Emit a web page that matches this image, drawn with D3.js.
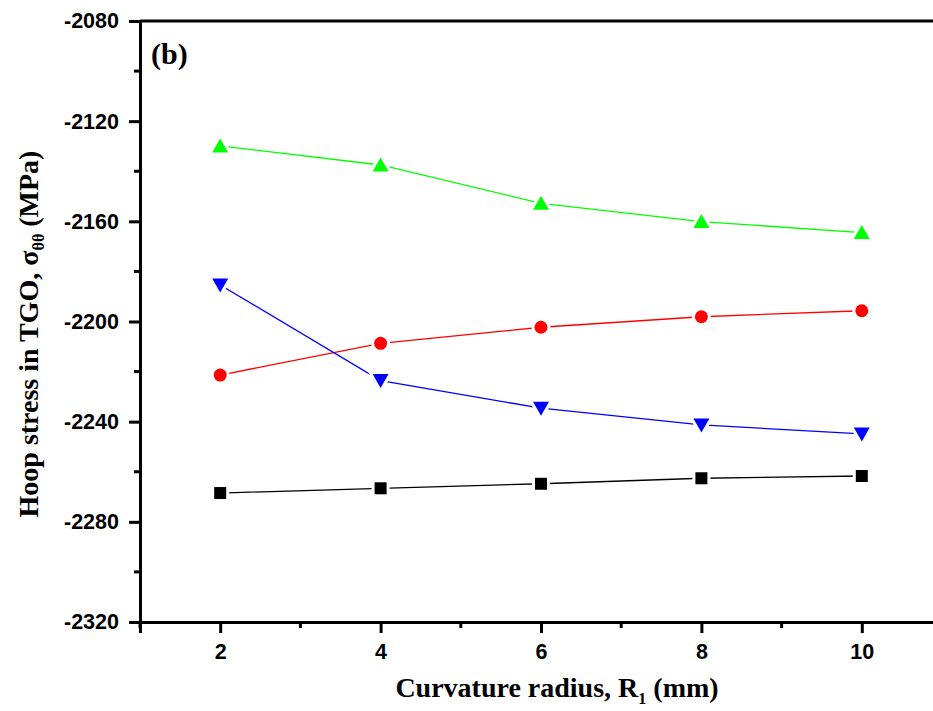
<!DOCTYPE html>
<head>
<script src="https://d3js.org/d3.v7.min.js"></script>
<style>
body { margin: 0; background: #fff; }
text.tick { font-family: "Liberation Sans", Arial, sans-serif; font-weight: bold; font-size: 21.5px; }
text.title { font-family: "Liberation Serif", "Times New Roman", serif; font-weight: bold; font-size: 28px; }
</style>
</head>
<body>
<svg id="c" width="933" height="711"></svg>
<script>
// curvature radius R1 (mm)
var radius = [2, 4, 6, 8, 10];
// hoop stress in TGO (MPa)
var blackSq = [-2268.5, -2266.6, -2264.8, -2262.6, -2261.7];
var redCirc = [-2221.4, -2208.7, -2202.3, -2198.1, -2195.7];
var blueDown = [-2185.4, -2223.6, -2234.6, -2241.3, -2244.9];
var greenUp = [-2129.9, -2137.5, -2152.8, -2160.1, -2164.5];

var yTicks = [-2080, -2120, -2160, -2200, -2240, -2280, -2320];
var xTicks = [2, 4, 6, 8, 10];

var series = [
  {vals: blackSq, color: "#000000", shape: "square"},
  {vals: redCirc, color: "#ff0000", shape: "circle"},
  {vals: blueDown, color: "#0000ff", shape: "down"},
  {vals: greenUp, color: "#00ff00", shape: "up"}
];

var svg = d3.select("#c");
var pLeft = 140, pRight = 942, pTop = 21, pBottom = 622;

var x = d3.scaleLinear().domain([1, 11]).range([pLeft, pRight]);
var y = d3.scaleLinear().domain([-2320, -2080]).range([pBottom, pTop]);

// frame top line
svg.append("line").attr("x1", pLeft).attr("x2", 933).attr("y1", pTop).attr("y2", pTop)
  .attr("stroke", "#000").attr("stroke-width", 3);

// minor ticks
var yMinor = d3.range(-2300, -2080, 40);
svg.selectAll(".ymin").data(yMinor).enter().append("line")
  .attr("x1", pLeft - 6).attr("x2", pLeft).attr("y1", d => y(d)).attr("y2", d => y(d))
  .attr("stroke", "#000").attr("stroke-width", 3);
var xMinor = [1, 3, 5, 7, 9, 11];
svg.selectAll(".xmin").data(xMinor).enter().append("line")
  .attr("y1", pBottom).attr("y2", pBottom + 6).attr("x1", d => x(d)).attr("x2", d => x(d))
  .attr("stroke", "#000").attr("stroke-width", 3);

var yAxis = d3.axisLeft(y).tickValues(yTicks).tickSize(11).tickPadding(10).tickFormat(d3.format("d"));
var gy = svg.append("g").attr("transform", "translate(" + pLeft + ",0)").call(yAxis);
var xAxis = d3.axisBottom(x).tickValues(xTicks).tickSize(11).tickPadding(11);
var gx = svg.append("g").attr("transform", "translate(0," + pBottom + ")").call(xAxis);
[gy, gx].forEach(function (g) {
  g.select(".domain").attr("stroke-width", 3);
  g.selectAll(".tick line").attr("stroke-width", 3);
  g.selectAll(".tick text").attr("class", "tick").attr("fill", "#000");
});
gy.selectAll(".tick text").text(d => "-" + Math.abs(d));

var line = d3.line().x((d, i) => x(radius[i])).y(d => y(d));

function marker(g, shape) {
  var s;
  if (shape === "square") s = g.append("rect").attr("x", -6).attr("y", -6).attr("width", 12).attr("height", 12);
  else if (shape === "circle") s = g.append("circle").attr("r", 6.5);
  else if (shape === "up") s = g.append("path").attr("d", "M0,-7.5L8,6.5L-8,6.5Z");
  else s = g.append("path").attr("d", "M0,7.5L8,-6.5L-8,-6.5Z");
  return s;
}

series.forEach(function (sr) {
  svg.append("path").datum(sr.vals).attr("d", line)
    .attr("fill", "none").attr("stroke", sr.color).attr("stroke-width", 1.3);
  sr.vals.forEach(function (v, i) {
    var g = svg.append("g").attr("transform", "translate(" + x(radius[i]) + "," + y(v) + ")");
    marker(g, sr.shape).attr("fill", "#fff").attr("stroke", "#fff").attr("stroke-width", 6);
    marker(g, sr.shape).attr("fill", sr.color);
  });
});

// (b) label
svg.append("text").attr("class", "title").attr("x", 151).attr("y", 64).style("font-size", "30px").text("(b)");

// x title
var xt = svg.append("text").attr("class", "title").attr("x", 557).attr("y", 697).attr("text-anchor", "middle");
xt.append("tspan").text("Curvature radius, R");
xt.append("tspan").attr("dy", 7).style("font-size", "16px").text("1");
xt.append("tspan").attr("dy", -7).text(" (mm)");

// y title
var yt = svg.append("text").attr("class", "title").attr("text-anchor", "middle")
  .attr("transform", "translate(38,334) rotate(-90)");
yt.append("tspan").text("Hoop stress in TGO, σ");
yt.append("tspan").attr("dy", 6).style("font-size", "16px").text("θθ");
yt.append("tspan").attr("dy", -6).text(" (MPa)");
</script>
</body>
